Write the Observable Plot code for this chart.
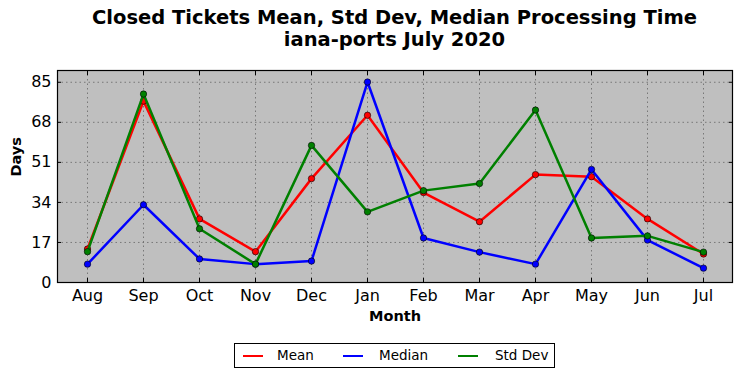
<!DOCTYPE html>
<html><head><meta charset="utf-8">
<script src="https://cdn.jsdelivr.net/npm/d3@7"></script>
<script src="https://cdn.jsdelivr.net/npm/@observablehq/plot@0.6"></script>
<style>
body{margin:0;background:#fff;font-family:"DejaVu Sans",sans-serif;}
#wrap{width:742px;height:378px;position:relative;overflow:hidden;}
#title{position:absolute;left:37px;width:715px;top:7px;text-align:center;font-weight:bold;font-size:19.5px;line-height:22px;color:#000;}
#chart{position:absolute;left:0;top:62px;}
#legend{position:absolute;left:234px;top:343px;width:319px;height:23px;border:1px solid #000;background:#fff;font-size:13.5px;}
.li{position:absolute;top:3px;height:16px;line-height:16px;}
.sw{position:absolute;top:11px;width:20px;height:0;border-top:2.5px solid;}
</style></head>
<body><div id="wrap">
<div id="title">Closed Tickets Mean, Std Dev, Median Processing Time<br>iana-ports July 2020</div>
<div id="chart"></div>
<div id="legend"></div>
</div>
<script>
const months = ["Aug","Sep","Oct","Nov","Dec","Jan","Feb","Mar","Apr","May","Jun","Jul"];
const mean   = [14.2, 77, 27, 13.1, 44.1, 71, 38.2, 25.8, 45.8, 44.9, 27, 12.1];
const median = [7.8, 33, 10, 7.8, 9.1, 85.1, 18.9, 12.9, 7.8, 48, 18, 6.1];
const stdDev = [13.1, 80, 22.8, 7.8, 58.2, 30, 39, 42, 73.2, 18.9, 19.8, 12.9];
const seriesNames = ["Mean","Median","Std Dev"];
const colors = ["#ff0000","#0000ff","#008000"];
const yTicks = [0,17,34,51,68,85];

const seriesValues = [mean, median, stdDev];
const data = [];
seriesNames.forEach((s,i)=>seriesValues[i].forEach((v,j)=>data.push({series:s, month:months[j], value:v})));

const seriesMarks = seriesNames.flatMap((s)=>{
  const d = data.filter(r=>r.series===s);
  return [
    Plot.line(d,{x:"month",y:"value",stroke:"series",strokeWidth:2.5}),
    Plot.dot(d,{x:"month",y:"value",fill:"series",stroke:"#000",strokeWidth:0.6,r:3.2})
  ];
});

const chart = Plot.plot({
  width:742, height:270,
  marginLeft:57, marginRight:10, marginTop:8, marginBottom:50,
  style:{fontFamily:"DejaVu Sans, sans-serif", fontSize:"16px", background:"transparent", color:"#000"},
  x:{type:"point", domain:months, padding:0.5},
  y:{domain:[0,90]},
  color:{domain:seriesNames, range:colors},
  marks:[
    Plot.frame({fill:"#bfbfbf"}),
    Plot.ruleX(months,{x:d=>d, stroke:"#666", strokeDasharray:"1.5,3", strokeWidth:0.8}),
    Plot.ruleY(yTicks,{y:d=>d, stroke:"#666", strokeDasharray:"1.5,3", strokeWidth:0.8}),
    Plot.axisX(months,{anchor:"bottom", tickSize:0, tickPadding:7, label:null, fontSize:16}),
    Plot.axisY(yTicks,{anchor:"left", tickSize:0, tickPadding:6, label:null, fontSize:16}),
    Plot.axisX(months,{anchor:"bottom", tickSize:-4, tickFormat:()=>"", label:null}),
    Plot.axisX(months,{anchor:"top", tickSize:-4, tickFormat:()=>"", label:null}),
    Plot.axisY(yTicks,{anchor:"left", tickSize:-4, tickFormat:()=>"", label:null}),
    Plot.axisY(yTicks,{anchor:"right", tickSize:-4, tickFormat:()=>"", label:null}),
    ...seriesMarks,
    Plot.frame({stroke:"#000", strokeWidth:1.2}),
    Plot.text(["Month"],{frameAnchor:"bottom", dy:38, fontWeight:"bold", fontSize:14.5}),
    Plot.text(["Days"],{frameAnchor:"left", dx:-41, rotate:-90, fontWeight:"bold", fontSize:14.5})
  ]
});
document.getElementById("chart").appendChild(chart);

const legend = document.getElementById("legend");
const swX = [8, 108, 223];
const txX = [42, 144, 260];
seriesNames.forEach((s,i)=>{
  const sw = document.createElement("div"); sw.className="sw"; sw.style.left=swX[i]+"px"; sw.style.borderTopColor=colors[i];
  const t = document.createElement("div"); t.className="li"; t.style.left=txX[i]+"px"; t.textContent=s;
  legend.appendChild(sw); legend.appendChild(t);
});
</script>
</body></html>
